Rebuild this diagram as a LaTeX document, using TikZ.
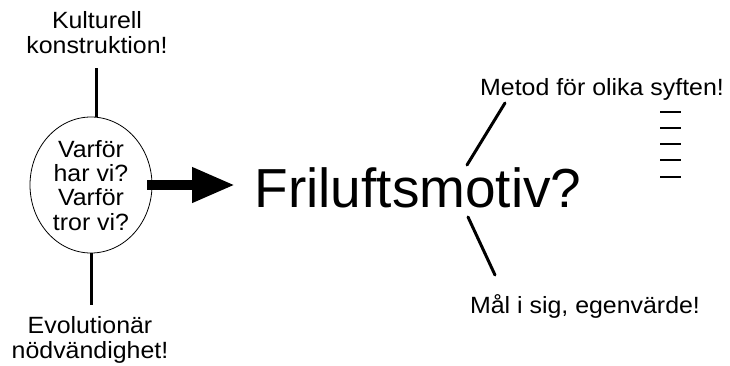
\documentclass[tikz,border=0pt]{standalone}
\usepackage{fontspec}
\setmainfont{Liberation Sans}
\newfontfamily\widesans[FakeStretch=1.06]{Liberation Sans}
\usetikzlibrary{shapes.geometric,arrows.meta}
\begin{document}
\begin{tikzpicture}[x=1pt,y=-1pt,
  lbl/.style={inner sep=0pt,align=center,font=\widesans\fontsize{23.5}{25}\selectfont},
  big/.style={inner sep=0pt,font=\fontsize{55}{60}\selectfont},
  stem/.style={line width=3pt},
  dashln/.style={line width=1.6pt}]
\useasboundingbox (0,0) rectangle (730,365);
% ellipse
\node[draw,line width=0.8pt,ellipse,minimum width=122pt,minimum height=136pt,inner sep=0pt] (ell) at (91,185) {};
\node[lbl,anchor=base,font=\widesans\fontsize{23.5}{24.3}\selectfont] (q) at (91,230) {Varför\\har vi?\\Varför\\tror vi?};
% top/bottom labels
\node[lbl,anchor=base] (kult) at (97,53) {Kulturell\\konstruktion!};
\node[lbl,anchor=base] (evo) at (90,358) {Evolutionär\\nödvändighet!};
\coordinate (t1) at (96,68);
\coordinate (b1) at (91,305);
\draw[stem] (t1) -- (ell.north -| t1);
\draw[stem] (ell.south -| b1) -- (b1);
% central text
\node[big,anchor=base] (fr) at (418,207) {Friluftsmotiv?};
\draw[line width=10pt,-{Triangle[length=43pt,width=33pt]}] (ell.east) ++(-5,0) coordinate (a0) (a0) -- (235,185) coordinate (a1);
% right labels
\node[lbl,anchor=base] (met) at (602,95) {Metod för olika syften!};
\node[lbl,anchor=base] (mal) at (585,313) {Mål i sig, egenvärde!};
\coordinate (u0) at (467,165); \coordinate (u1) at (505,103);
\coordinate (l0) at (468,217); \coordinate (l1) at (495,275);
\draw[stem,line cap=round] (u0) -- (u1);
\draw[stem,line cap=round] (l0) -- (l1);
\foreach \i/\yy in {1/112,2/128,3/144,4/160,5/177}{
  \coordinate (d\i a) at (660,\yy); \coordinate (d\i b) at (681,\yy);
  \draw[dashln] (d\i a) -- (d\i b);
}
\end{tikzpicture}
\end{document}
